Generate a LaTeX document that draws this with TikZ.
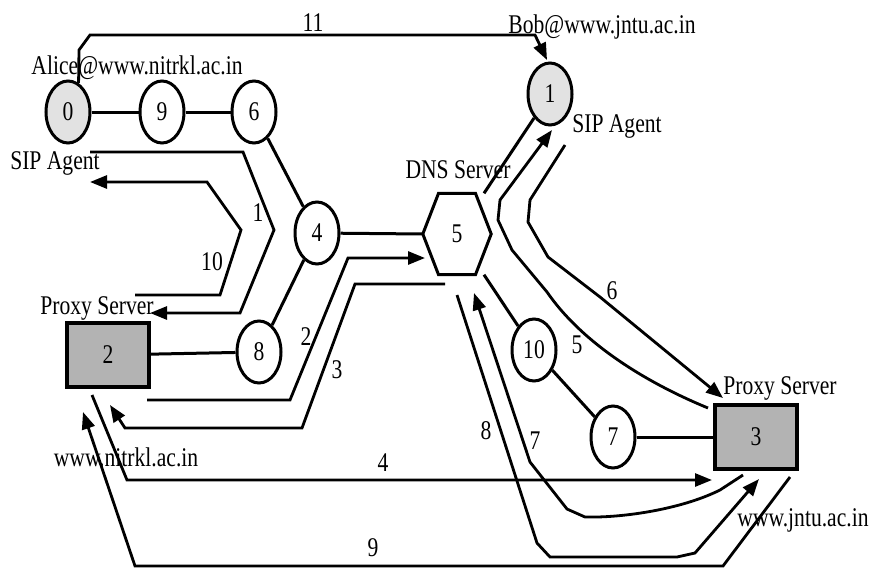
\documentclass[tikz,border=0pt]{standalone}
\usepackage{fontspec}
\setmainfont{Liberation Serif}[FakeStretch=0.8]
\usetikzlibrary{arrows.meta,shapes.geometric,calc}
\definecolor{agentgray}{HTML}{E2E2E2}
\definecolor{proxygray}{HTML}{B3B3B3}
\tikzset{
  txt/.style={font=\fontsize{27}{30}\selectfont},
  hop/.style={draw, ellipse, line width=3pt, fill=white, minimum width=44pt,
    minimum height=62pt, inner sep=0pt, txt},
  agent/.style={hop, fill=agentgray},
  proxy/.style={draw, rectangle, line width=3.2pt, fill=proxygray,
    minimum width=82pt, minimum height=64pt, inner sep=0pt, txt},
  dnsbox/.style={minimum width=68pt, minimum height=81pt, inner sep=0pt, txt},
  link/.style={line width=3pt},
  msg/.style={line width=2.8pt, -{Triangle[length=17pt,width=13pt]}},
  note/.style={txt, inner sep=0pt},
}

\begin{document}
\begin{tikzpicture}[x=1pt, y=-1pt]
\useasboundingbox (0,0) rectangle (875,568);

% hosts, routers and servers
\node[agent] (n0) at (68,112) {0};
\node[hop] (n9) at (162,112) {9};
\node[hop] (n6) at (254,112) {6};
\node[hop] (n4) at (317,233) {4};
\node[dnsbox] (n5) at (457,234) {5};
\node[agent] (n1) at (550,94) {1};
\node[proxy] (n2) at (108,355) {2};
\node[hop] (n8) at (259,352) {8};
\node[hop] (n10) at (534,350) {10};
\node[hop] (n7) at (613,437) {7};
\node[proxy] (n3) at (756,437) {3};

\draw[link] (n5.west) -- ($(n5.north west)!.23!(n5.north east)$)
  -- ($(n5.north east)!.23!(n5.north west)$) -- (n5.east)
  -- ($(n5.south east)!.23!(n5.south west)$)
  -- ($(n5.south west)!.23!(n5.south east)$) -- cycle;

\draw[link] (n0) -- (n9);
\draw[link] (n9) -- (n6);
\draw[link] (n6) -- (n4);
\draw[link] (n4) -- (n5.west);
\draw[link] (n4) -- (n8);
\draw[link] (n2) -- (n8);
\draw[link] (n5) -- (n1);
\draw[link] (n5) -- (n10);
\draw[link] (n10) -- (n7);
\draw[link] (n7) -- (n3);

% names
\node[note] (alice) at (137,68) {Alice@www.nitrkl.ac.in};
\node[note] (sipa) at (55,163) {SIP Agent};
\node[note] (bob) at (602,27) {Bob@www.jntu.ac.in};
\node[note] (sipb) at (617,126) {SIP Agent};
\node[note] (dnsname) at (458,170) {DNS Server};
\node[note] (pxa) at (97,308) {Proxy Server};
\node[note] (pxb) at (780,388) {Proxy Server};
\node[note] (wwwa) at (126,457) {www.nitrkl.ac.in};
\node[note] (wwwb) at (803,520) {www.jntu.ac.in};

% message ends
\coordinate (m1s) at (90,152);   \coordinate (m1e) at (150,313);
\coordinate (m2s) at (147,400);  \coordinate (m2e) at (425,258);
\coordinate (m3s) at (445,284);  \coordinate (m3e) at (110,405);
\coordinate (m4s) at (92,395);   \coordinate (m4e) at (712,480);
\coordinate (m5s) at (708,408);  \coordinate (m5e) at (552,130);
\coordinate (m6s) at (565,145);  \coordinate (m6e) at (723,398);
\coordinate (m7s) at (743,475);  \coordinate (m7e) at (474,293);
\coordinate (m8s) at (457,295);  \coordinate (m8e) at (759,479);
\coordinate (m9s) at (790,477);  \coordinate (m9e) at (83,412);
\coordinate (m10s) at (135,295); \coordinate (m10e) at (90,182);
\coordinate (m11e) at (547,60);

% messages
\draw[msg] (m1s) -- (243,152) -- (274,230) -- (240,313) -- (m1e);
\draw[msg] (m2s) -- (290,400) -- (348,258) -- (m2e);
\draw[msg] (m3s) -- (355,284) -- (302,428) -- (125,428) -- (m3e);
\draw[msg] (m4s) -- (127,480) -- (m4e);
\draw[msg] (m5s) .. controls (640,380) and (580,340) .. (547,292)
  -- (512,250) -- (498,220) -- (500,200) -- (m5e);
\draw[msg] (m6s) -- (530,200) -- (528,222) -- (548,257) -- (600,297) -- (m6e);
\draw[msg] (m7s) -- (720,490) .. controls (680,510) and (620,518) .. (585,517)
  -- (567,509) -- (530,462) -- (m7e);
\draw[msg] (m8s) -- (537,543) -- (550,557) -- (677,557) -- (695,553) -- (m8e);
\draw[msg] (m9s) -- (723,566) -- (135,566) -- (m9e);
\draw[msg] (m10s) -- (220,295) -- (241,230) -- (207,182) -- (m10e);
\draw[msg] (n0.70) -- (79,50) -- (90,35) -- (535,35) -- (m11e);

\node[note] (l1) at (258,213) {1};
\node[note] (l2) at (306,337) {2};
\node[note] (l3) at (337,370) {3};
\node[note] (l4) at (383,463) {4};
\node[note] (l5) at (577,345) {5};
\node[note] (l6) at (612,291) {6};
\node[note] (l7) at (535,441) {7};
\node[note] (l8) at (486,431) {8};
\node[note] (l9) at (373,548) {9};
\node[note] (l10) at (212,262) {10};
\node[note] (l11) at (313,23) {11};

\end{tikzpicture}
\end{document}
